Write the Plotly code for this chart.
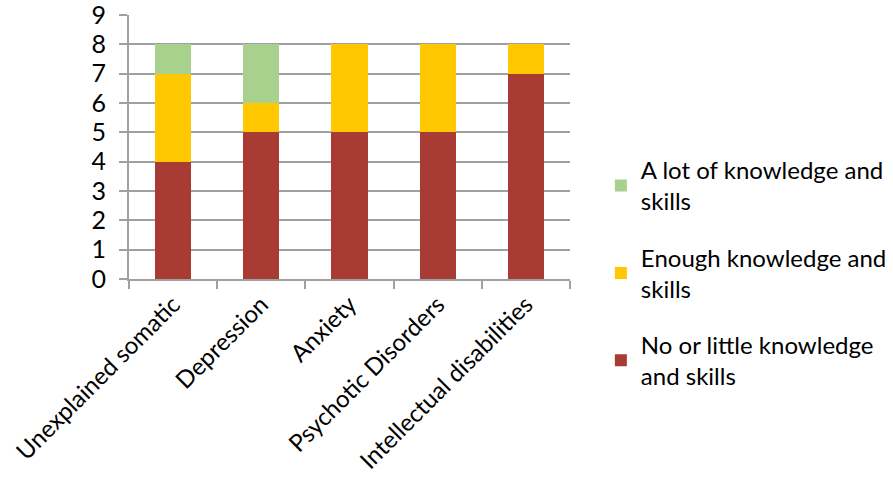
import plotly.graph_objects as go

categories = ["Unexplained somatic", "Depression", "Anxiety", "Psychotic Disorders", "Intellectual disabilities"]
no_little = [4, 5, 5, 5, 7]
enough = [3, 1, 3, 3, 1]
a_lot = [1, 2, 0, 0, 0]
y_ticks = [0, 1, 2, 3, 4, 5, 6, 7, 8, 9]

series_names = ["No or little knowledge<br>and skills", "Enough knowledge and<br>skills", "A lot of knowledge and<br>skills"]
series_values = [no_little, enough, a_lot]
series_colors = ["#a83c35", "#ffc800", "#a9d18e"]
legend_ranks = [3, 2, 1]

FONT = "Lato, 'Open Sans', sans-serif"

fig = go.Figure()
for i, (name, vals, col) in enumerate(zip(series_names, series_values, series_colors)):
    fig.add_trace(go.Bar(
        x=categories, y=vals, name=name,
        marker=dict(color=col, line=dict(width=0)),
        legendgroup=f"g{legend_ranks[i]}",
        legendrank=legend_ranks[i],
    ))

fig.update_layout(
    width=893, height=485,
    barmode="stack",
    bargap=0.59,
    plot_bgcolor="white", paper_bgcolor="white",
    margin=dict(l=129, r=323, t=15, b=206, autoexpand=False),
    font=dict(family=FONT, size=24, color="#000000"),
    showlegend=True,
    legend=dict(
        x=1.07, y=0.497, xanchor="left", yanchor="top",
        traceorder="grouped", tracegroupgap=22,
        font=dict(family=FONT, size=24, color="#000000"),
        itemsizing="constant",
    ),
    xaxis=dict(
        tickangle=-45, automargin=False,
        showline=True, linecolor="#a0a0a0", linewidth=2,
        ticks="outside", tickson="boundaries", ticklen=8, tickcolor="#a0a0a0", tickwidth=2,
        showgrid=False,
        tickfont=dict(family=FONT, size=24),
    ),
    yaxis=dict(
        range=[0, 9], tickmode="array", tickvals=y_ticks, automargin=False,
        ticklabeloverflow="allow",
        showline=True, linecolor="#a0a0a0", linewidth=2,
        showgrid=True, gridcolor="#a0a0a0", gridwidth=2,
        ticks="outside", ticklen=8, tickcolor="#a0a0a0", tickwidth=2,
        tickfont=dict(family=FONT, size=25),
        ticklabelstandoff=8,
        zeroline=False,
    ),
)

fig.write_html("out.html")
